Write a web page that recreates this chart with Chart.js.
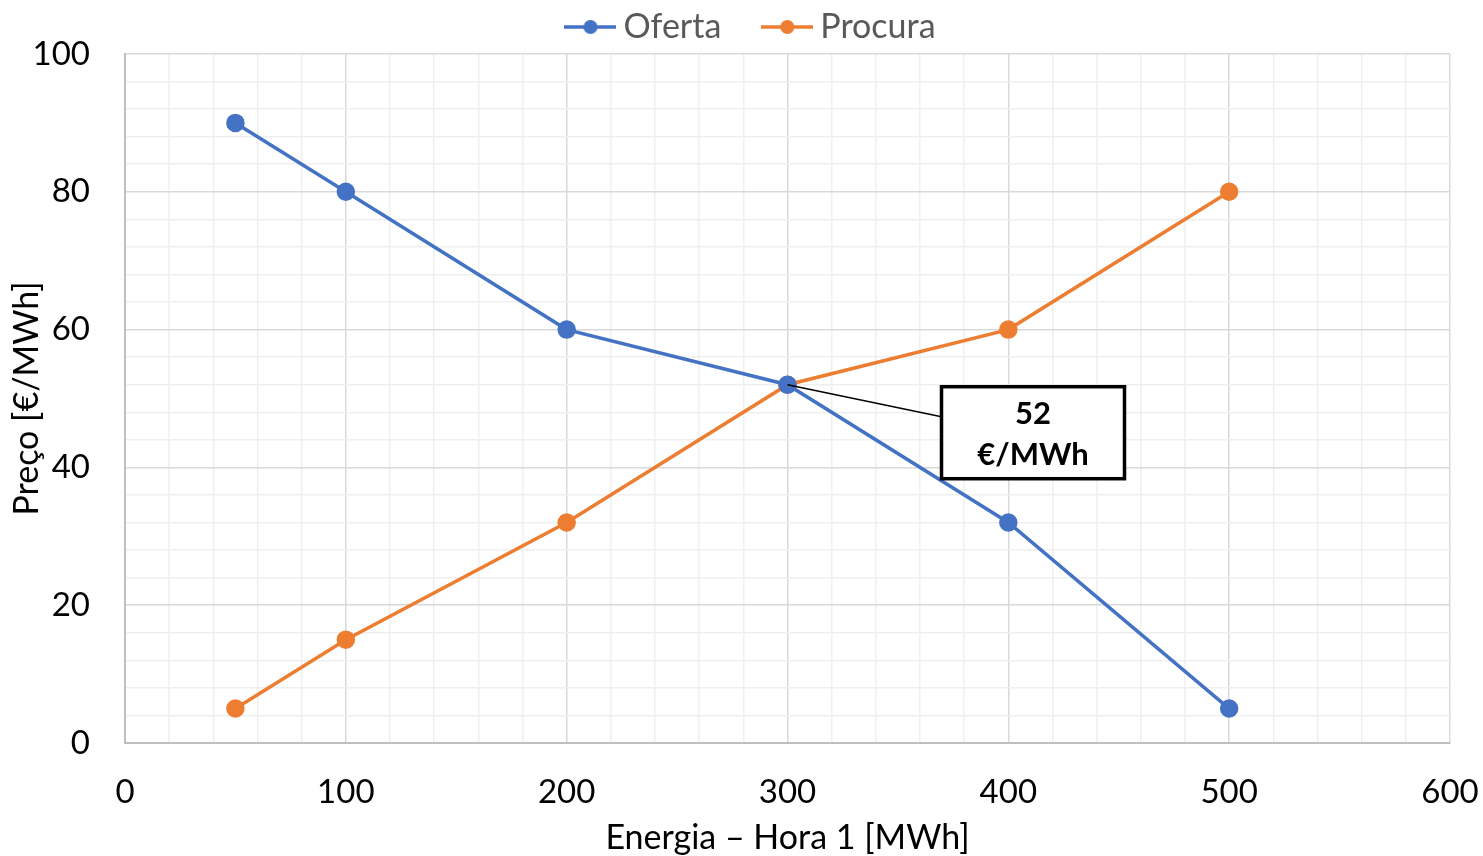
<!DOCTYPE html>
<html>
<head>
<meta charset="utf-8">
<script src="https://cdn.jsdelivr.net/npm/chart.js@4.4.1/dist/chart.umd.min.js"></script>
<style>
  html, body { margin: 0; padding: 0; background: #fff; }
  #wrap { width: 1483px; height: 856px; }
</style>
</head>
<body>
<div id="wrap"><canvas id="myChart" width="1483" height="856"></canvas></div>
<script>
// data
const energia = [50, 100, 200, 300, 400, 500];
const oferta = [90, 80, 60, 52, 32, 5];
const procura = [5, 15, 32, 52, 60, 80];
const equilibrio = { x: 300, y: 52 };
const equilibrioLabel = ['52', '€/MWh'];

const BLUE = '#4472C4';
const ORANGE = '#ED7D31';
const FONT = 'Lato, Carlito, Calibri, sans-serif';

// legend marker: line with a dot, drawn to a small canvas
function legendMarker(color) {
    const c = document.createElement('canvas');
    c.width = 52;
    c.height = 16;
    const g = c.getContext('2d');
    g.strokeStyle = color;
    g.lineWidth = 3.5;
    g.beginPath();
    g.moveTo(0, 8);
    g.lineTo(52, 8);
    g.stroke();
    g.fillStyle = color;
    g.beginPath();
    g.arc(26, 8, 7, 0, Math.PI * 2);
    g.fill();
    return c;
}

const toPoints = ys => energia.map((x, i) => ({ x: x, y: ys[i] }));

// callout box at the crossing point
const calloutPlugin = {
    id: 'callout',
    afterLayout(chart) {
        // nudge the legend row to where Excel centres it
        if (chart.legend) {
            chart.legend.left += 30;
            chart.legend.right += 30;
        }
    },
    afterDatasetsDraw(chart) {
        const ctx = chart.ctx;
        const px = chart.scales.x.getPixelForValue(equilibrio.x);
        const py = chart.scales.y.getPixelForValue(equilibrio.y);
        const bx = px + 154, by = py + 2, bw = 183, bh = 92;
        ctx.save();
        ctx.strokeStyle = '#000';
        ctx.lineWidth = 1.5;
        ctx.beginPath();
        ctx.moveTo(px, py);
        ctx.lineTo(bx, py + 32);
        ctx.stroke();
        ctx.fillStyle = '#fff';
        ctx.fillRect(bx, by, bw, bh);
        ctx.lineWidth = 3.5;
        ctx.strokeRect(bx, by, bw, bh);
        ctx.fillStyle = '#000';
        ctx.font = 'bold 31px ' + FONT;
        ctx.textAlign = 'center';
        ctx.textBaseline = 'middle';
        ctx.fillText(equilibrioLabel[0], bx + bw / 2, by + 27);
        ctx.fillText(equilibrioLabel[1], bx + bw / 2, by + 68);
        ctx.restore();
    }
};

const ctx = document.getElementById('myChart').getContext('2d');
new Chart(ctx, {
    type: 'scatter',
    data: {
        datasets: [
            {
                label: 'Oferta',
                data: toPoints(oferta),
                showLine: true,
                borderColor: BLUE,
                backgroundColor: BLUE,
                borderWidth: 3.5,
                pointRadius: 7.5,
                pointHoverRadius: 7.5,
                pointStyle: 'circle',
                legendMarker: legendMarker(BLUE)
            },
            {
                label: 'Procura',
                data: toPoints(procura),
                showLine: true,
                borderColor: ORANGE,
                backgroundColor: ORANGE,
                borderWidth: 3.5,
                pointRadius: 7.5,
                pointHoverRadius: 7.5,
                pointStyle: 'circle',
                legendMarker: legendMarker(ORANGE)
            }
        ]
    },
    options: {
        responsive: false,
        animation: false,
        layout: { padding: { top: -40, right: 33, left: 0, bottom: 0 } },
        scales: {
            x: {
                type: 'linear',
                min: 0,
                max: 600,
                afterFit: s => {
                    s.height = 113;
                    s.paddingLeft = 0;
                    s.paddingRight = 0;
                },
                ticks: {
                    stepSize: 20,
                    autoSkip: false,
                    maxRotation: 0,
                    padding: 30,
                    color: '#000',
                    font: { family: FONT, size: 33 },
                    callback: v => (v % 100 === 0 ? v : '')
                },
                grid: {
                    drawTicks: false,
                    lineWidth: 1.5,
                    color: c => (c.tick && c.tick.value % 100 === 0 ? '#d9d9d9' : '#efefef')
                },
                border: { color: '#bfbfbf', width: 2 },
                title: {
                    display: true,
                    text: 'Energia – Hora 1 [MWh]',
                    color: '#000',
                    font: { family: FONT, size: 34, lineHeight: 1.05 },
                    padding: { top: 0, bottom: 0 }
                }
            },
            y: {
                min: 0,
                max: 100,
                afterFit: s => {
                    s.width = 125;
                    s.paddingTop = 0;
                    s.paddingBottom = 0;
                },
                ticks: {
                    stepSize: 4,
                    autoSkip: false,
                    padding: 35,
                    color: '#000',
                    font: { family: FONT, size: 33 },
                    callback: v => (v % 20 === 0 ? v : '')
                },
                grid: {
                    drawTicks: false,
                    lineWidth: 1.5,
                    color: c => (c.tick && c.tick.value % 20 === 0 ? '#d9d9d9' : '#efefef')
                },
                border: { color: '#bfbfbf', width: 2 },
                title: {
                    display: true,
                    text: 'Preço [€/MWh]',
                    color: '#000',
                    font: { family: FONT, size: 34 },
                    padding: { top: 7, bottom: 0 }
                }
            }
        },
        plugins: {
            tooltip: { enabled: false },
            legend: {
                position: 'top',
                labels: {
                    usePointStyle: true,
                    pointStyleWidth: 32,
                    padding: 50,
                    color: '#595959',
                    font: { family: FONT, size: 34 },
                    generateLabels: chart => chart.data.datasets.map((ds, i) => ({
                        text: ds.label,
                        pointStyle: ds.legendMarker,
                        fillStyle: ds.borderColor,
                        strokeStyle: ds.borderColor,
                        fontColor: '#595959',
                        lineWidth: 0,
                        hidden: false,
                        datasetIndex: i
                    }))
                }
            }
        }
    },
    plugins: [calloutPlugin]
});
</script>
</body>
</html>
